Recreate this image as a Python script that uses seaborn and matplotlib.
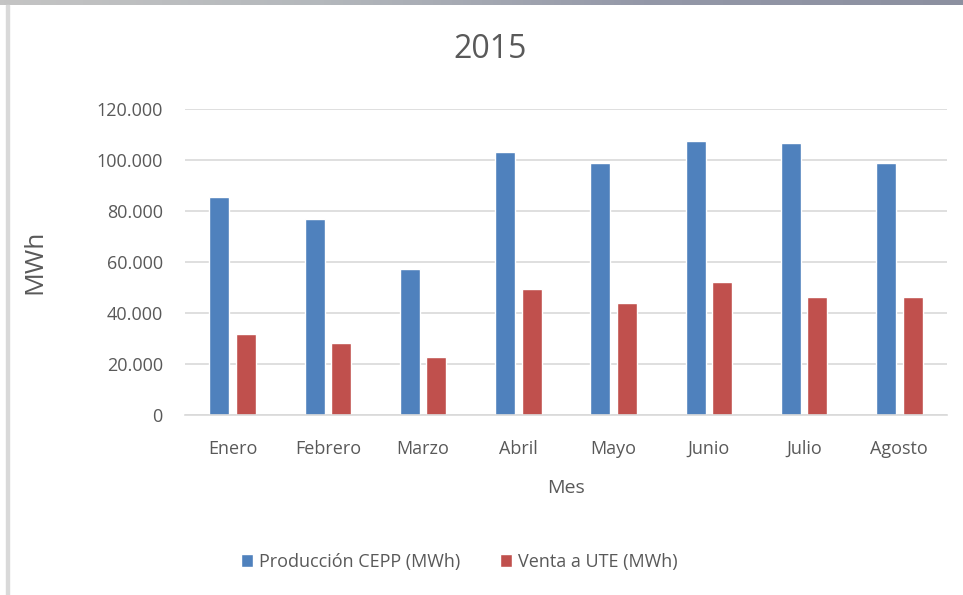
import matplotlib
matplotlib.use("Agg")
import matplotlib.pyplot as plt
import numpy as np
import pandas as pd
import seaborn as sns

meses = ["Enero", "Febrero", "Marzo", "Abril", "Mayo", "Junio", "Julio", "Agosto"]
produccion = [85300, 76700, 57100, 102900, 98600, 107200, 106500, 98600]
venta_ute = [31700, 28200, 22700, 49300, 43800, 52000, 46200, 46200]
series = ["Producción CEPP (MWh)", "Venta a UTE (MWh)"]
yticks = [0, 20000, 40000, 60000, 80000, 100000, 120000]

sns.set_theme(style="white")
plt.rcParams["font.family"] = ["Open Sans", "DejaVu Sans"]
text_color = "#595959"

df = pd.DataFrame({
    "Mes": meses * 2,
    "valor": produccion + venta_ute,
    "serie": [series[0]] * len(meses) + [series[1]] * len(meses),
})

fig = plt.figure(figsize=(9.63, 5.95), dpi=100)
ax = fig.add_axes([185 / 963, 1 - 415 / 595, (947 - 185) / 963, (415 - 108.7) / 595])

sns.barplot(data=df, x="Mes", y="valor", hue="serie", order=meses, hue_order=series,
            palette=["#4f81bd", "#c0504d"], width=0.56, gap=0.25, saturation=1,
            ax=ax, legend=True)

ax.set_ylim(0, 120000)
ax.set_yticks(yticks)
ax.set_yticklabels([f"{v:,}".replace(",", ".") for v in yticks])
ax.yaxis.grid(True, color="#d9d9d9", linewidth=1.2)
ax.set_axisbelow(True)
for s in ["top", "right", "left"]:
    ax.spines[s].set_visible(False)
ax.spines["bottom"].set_color("#d9d9d9")
ax.spines["bottom"].set_linewidth(1.2)
ax.tick_params(axis="both", length=0, labelsize=13, colors=text_color)
ax.tick_params(axis="y", pad=16)
ax.tick_params(axis="x", pad=18)

ax.set_xlabel("Mes", fontsize=14, color=text_color, va="center")
ax.xaxis.set_label_coords(0.5, -(488 - 415) / 306.3)
ax.set_ylabel("MWh", fontsize=19, color=text_color, va="center")
ax.yaxis.set_label_coords(-(185 - 35) / 762, 0.5)
fig.text(490 / 963, 1 - 50 / 595, "2015", fontsize=23, color=text_color,
         ha="center", va="center")

leg = ax.legend(loc="center", bbox_to_anchor=(459 / 963, 1 - 562 / 595),
                bbox_transform=fig.transFigure, ncol=2, frameon=False,
                fontsize=13, handlelength=0.7, handleheight=0.7, handletextpad=0.3,
                columnspacing=2.2)
for t in leg.get_texts():
    t.set_color(text_color)

# gray frame pieces from the original screenshot
fig.patches.append(plt.Rectangle((6 / 963, 0), 3 / 963, 1 - 5 / 595,
                                 transform=fig.transFigure, color="#d9d9d9", zorder=0))
band = fig.add_axes([0, 1 - 5 / 595, 1, 5 / 595])
grad = np.linspace(0, 1, 256).reshape(1, -1)
band.imshow(grad, aspect="auto", cmap=matplotlib.colors.LinearSegmentedColormap.from_list(
    "band", ["#c4c4c4", "#b4b8bc", "#9498a8", "#8c90a0"]))
band.axis("off")

fig.savefig("out.png", dpi=100)
